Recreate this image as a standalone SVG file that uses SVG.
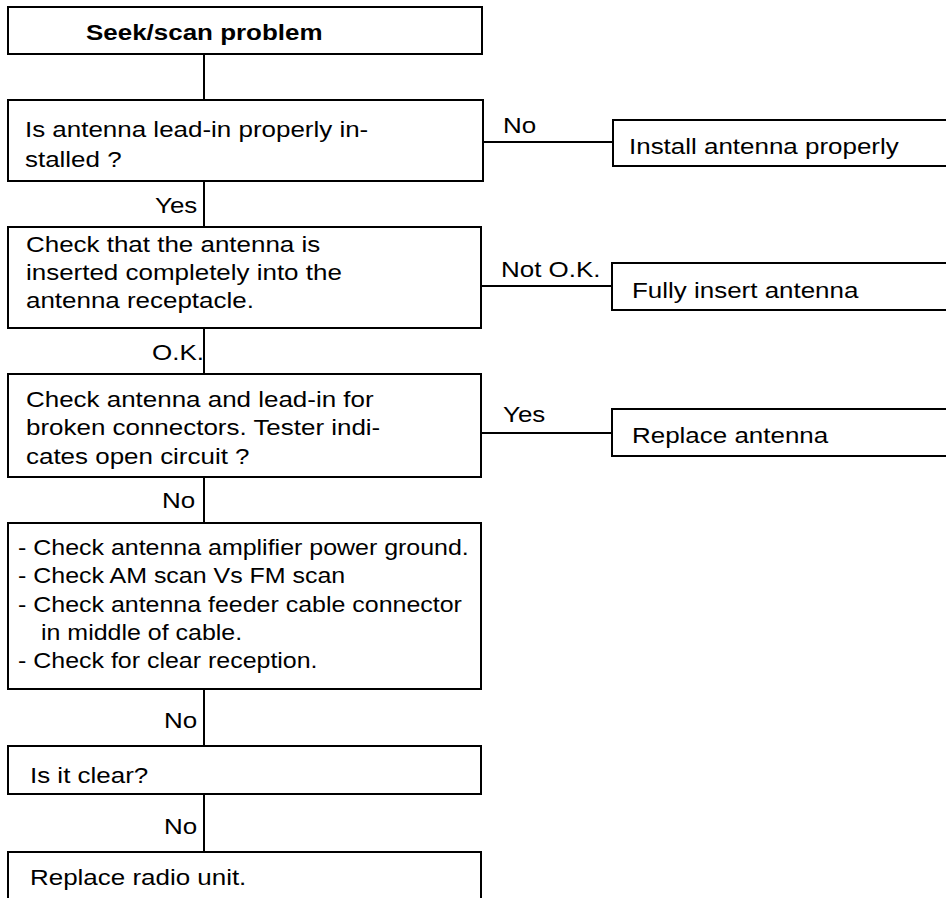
<svg xmlns="http://www.w3.org/2000/svg" width="946" height="898" viewBox="0 0 946 898">
<style>
.box{fill:#fff;stroke:#000;stroke-width:2}
.ln{fill:none;stroke:#000;stroke-width:2}
text{font-family:"Liberation Sans",Arial,Helvetica,sans-serif;font-size:22px;fill:#000;transform:scaleX(1.18);transform-box:fill-box;transform-origin:left}
.b{font-weight:bold}
.n{transform:scaleX(1.135)}
</style>
<rect width="946" height="898" fill="#fff"/>
<g id="connectors">
<line class="ln" x1="204" y1="54" x2="204" y2="100"/>
<line class="ln" x1="204" y1="181" x2="204" y2="227"/>
<line class="ln" x1="204" y1="328" x2="204" y2="374"/>
<line class="ln" x1="204" y1="477" x2="204" y2="523"/>
<line class="ln" x1="204" y1="689" x2="204" y2="746"/>
<line class="ln" x1="204" y1="794" x2="204" y2="852"/>
<line class="ln" x1="483" y1="142" x2="613" y2="142"/>
<line class="ln" x1="481" y1="286" x2="612" y2="286"/>
<line class="ln" x1="481" y1="433" x2="612" y2="433"/>
<text x="503" y="133">No</text>
<text x="501" y="277">Not O.K.</text>
<text x="503" y="422">Yes</text>
<text x="155" y="213">Yes</text>
<text x="152" y="360">O.K.</text>
<text x="162" y="508">No</text>
<text x="164" y="728">No</text>
<text x="164" y="834">No</text>
</g>
<g id="start">
<rect class="box" x="8" y="7" width="474" height="47"/>
<text class="b" x="86" y="40">Seek/scan problem</text>
</g>
<g id="q-leadin">
<rect class="box" x="8" y="100" width="475" height="81"/>
<text x="25" y="137">Is antenna lead-in properly in-</text>
<text x="25" y="167">stalled ?</text>
</g>
<g id="install">
<rect class="box" x="613" y="120" width="350" height="46"/>
<text x="629" y="154">Install antenna properly</text>
</g>
<g id="q-inserted">
<rect class="box" x="8" y="227" width="473" height="101"/>
<text x="26" y="252">Check that the antenna is</text>
<text x="26" y="280">inserted completely into the</text>
<text x="26" y="308">antenna receptacle.</text>
</g>
<g id="fully-insert">
<rect class="box" x="612" y="263" width="350" height="47"/>
<text x="632" y="298">Fully insert antenna</text>
</g>
<g id="q-broken">
<rect class="box" x="8" y="374" width="473" height="103"/>
<text x="26" y="407">Check antenna and lead-in for</text>
<text x="26" y="435">broken connectors. Tester indi-</text>
<text x="26" y="464">cates open circuit ?</text>
</g>
<g id="replace-antenna">
<rect class="box" x="612" y="409" width="350" height="47"/>
<text x="632" y="443">Replace antenna</text>
</g>
<g id="checks">
<rect class="box" x="8" y="523" width="473" height="166"/>
<text class="n" x="18" y="555">- Check antenna amplifier power ground.</text>
<text class="n" x="18" y="583">- Check AM scan Vs FM scan</text>
<text class="n" x="18" y="612">- Check antenna feeder cable connector</text>
<text class="n" x="41" y="640">in middle of cable.</text>
<text class="n" x="18" y="668">- Check for clear reception.</text>
</g>
<g id="q-clear">
<rect class="box" x="8" y="746" width="473" height="48"/>
<text x="30" y="783">Is it clear?</text>
</g>
<g id="replace-radio">
<rect class="box" x="8" y="852" width="473" height="60"/>
<text x="30" y="885">Replace radio unit.</text>
</g>
</svg>
